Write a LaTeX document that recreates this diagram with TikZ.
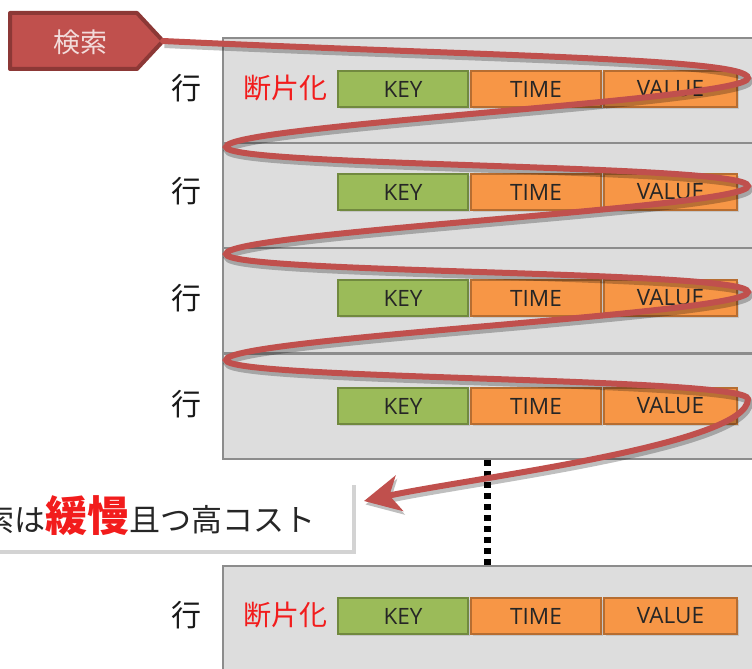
\documentclass[tikz,border=0pt]{standalone}
\usepackage{fontspec}
\setmainfont{Noto Sans CJK JP}
\newfontfamily\latinfont{Open Sans}
\usetikzlibrary{arrows.meta,shadows}
\definecolor{rowfill}{HTML}{DDDDDD}
\definecolor{rowline}{HTML}{8C8C8C}
\definecolor{keyfill}{HTML}{9BBB59}
\definecolor{keyline}{HTML}{71893F}
\definecolor{orfill}{HTML}{F79646}
\definecolor{orline}{HTML}{B66D31}
\definecolor{curvered}{HTML}{C0504D}
\definecolor{tagline}{HTML}{8C3836}
\definecolor{tagtext}{HTML}{F2DCDB}
\definecolor{hired}{HTML}{F21C1C}
\tikzset{
  rowbox/.style={draw=rowline, fill=rowfill, line width=2pt, anchor=north west, minimum width=548pt, minimum height=105pt, inner sep=0pt},
  cellbase/.style={line width=2pt, minimum height=36pt, inner sep=0pt, text=black!85,
     font=\latinfont\fontsize{22.5}{25}\selectfont, drop shadow={opacity=0.25, shadow xshift=1.5pt, shadow yshift=-1.5pt}},
  keycell/.style={cellbase, draw=keyline, fill=keyfill, minimum width=130pt},
  timecell/.style={cellbase, draw=orline, fill=orfill, minimum width=130pt},
  valcell/.style={cellbase, draw=orline, fill=orfill, minimum width=133pt},
  rowlabel/.style={font=\fontsize{30}{32}\selectfont, text=black!90, inner sep=0pt},
  fraglabel/.style={font=\fontsize{28}{30}\selectfont, text=hired, inner sep=0pt},
  tagshape/.style={draw=tagline, fill=curvered, line width=4pt, line join=round},
  taglabel/.style={font=\fontsize{27}{29}\selectfont, text=tagtext, inner sep=0pt},
  notebox/.style={fill=white, inner xsep=36pt, minimum height=69pt, inner ysep=0pt,
     font=\fontsize{31}{33}\selectfont, text=black!85,
     drop shadow={opacity=0.35, shadow xshift=4pt, shadow yshift=-4pt}},
  dotline/.style={draw=black, line width=7pt, dash pattern=on 5.5pt off 5.5pt},
  curve/.style={draw=curvered, line width=6pt, line cap=round,
     preaction={draw=black, opacity=0.25, line width=7pt, transform canvas={shift={(1.5pt,-3.5pt)}}}}
}
\begin{document}
\begin{tikzpicture}[x=1pt,y=-1pt]
\useasboundingbox (0,0) rectangle (752,669);
\clip (0,0) rectangle (752,669);

% rows
\node[rowbox] (row1) at (222,37) {};
\node[rowbox] (row2) at (222,142) {};
\node[rowbox] (row3) at (222,247) {};
\node[rowbox] (row4) at (222,353) {};
\node[rowbox, minimum height=120pt] (row5) at (222,565) {};

% row labels
\node[rowlabel] (g1) at (186,88) {行};
\node[rowlabel] (g2) at (186,191) {行};
\node[rowlabel] (g3) at (186,298) {行};
\node[rowlabel] (g4) at (186,404) {行};
\node[rowlabel] (g5) at (186,615) {行};
\node[fraglabel] (f1) at (285,88) {断片化};
\node[fraglabel] (f5) at (285,615) {断片化};

% cells
\node[keycell] (k1) at (403,89) {KEY};
\node[timecell] (t1) at (536,89) {TIME};
\node[valcell] (v1) at (670.5,89) {VALUE};
\node[keycell] (k2) at (403,192) {KEY};
\node[timecell] (t2) at (536,192) {TIME};
\node[valcell] (v2) at (670.5,192) {VALUE};
\node[keycell] (k3) at (403,298) {KEY};
\node[timecell] (t3) at (536,298) {TIME};
\node[valcell] (v3) at (670.5,298) {VALUE};
\node[keycell] (k4) at (403,406) {KEY};
\node[timecell] (t4) at (536,406) {TIME};
\node[valcell] (v4) at (670.5,406) {VALUE};
\node[keycell] (k5) at (403,616) {KEY};
\node[timecell] (t5) at (536,616) {TIME};
\node[valcell] (v5) at (670.5,616) {VALUE};

% dotted continuation
\coordinate (d1) at (487,460);
\coordinate (d2) at (487,565);
\draw[dotline] (d1) -- (d2);

% callout
\node[notebox, anchor=east] (note) at (352,515.5)
  {検索は{\color{hired}\bfseries\fontsize{42}{44}\selectfont 緩慢}且つ高コスト};
\coordinate (arrowend) at (364,501);

% search tag
\draw[tagshape] (10,13) -- (137,13) -- (163,41) -- (137,69) -- (10,69) -- cycle;
\node[taglabel] (tag) at (80,42) {検索};
\coordinate (tagtip) at (163,41);

% scanning curve
\draw[curve, -{Stealth[length=36pt,width=36pt,inset=10pt]}]
  (tagtip) .. controls (480,56) and (748,58) .. (748,78)
  .. controls (748,100) and (226,125) .. (226,147)
  .. controls (226,167) and (748,164) .. (748,186)
  .. controls (748,208) and (226,232) .. (226,254)
  .. controls (226,274) and (748,270) .. (748,292)
  .. controls (748,314) and (226,338) .. (226,360)
  .. controls (226,380) and (748,377) .. (748,399)
  .. controls (748,445) and (470,478) .. (arrowend);
\end{tikzpicture}
\end{document}
